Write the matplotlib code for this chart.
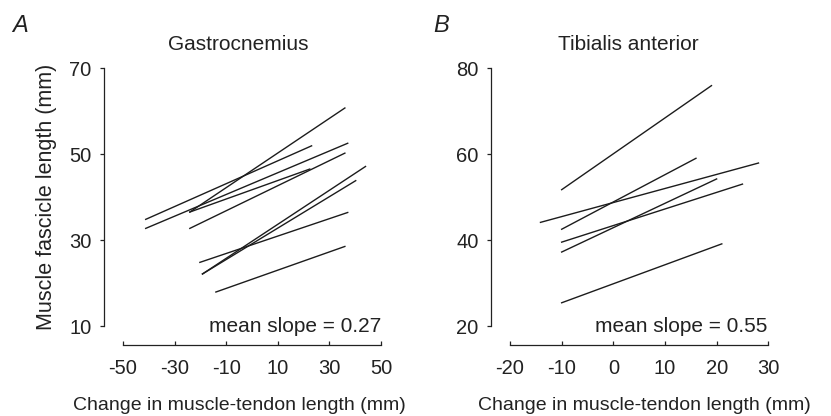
import matplotlib
matplotlib.use('Agg')
import matplotlib.pyplot as plt

plt.rcParams['font.family'] = ['Liberation Sans', 'DejaVu Sans']
plt.rcParams['axes.unicode_minus'] = False

# Gastrocnemius: start/end of each fitted line
gas_x0 = [-41.2, -41.2, -24.1, -24.1, -24.1, -20.2, -19.2, -19.2, -14.0]
gas_x1 = [23.1, 37.1, 36.0, 22.4, 36.0, 37.1, 44.0, 40.2, 36.0]
gas_y0 = [34.8, 32.7, 36.5, 36.5, 32.7, 24.8, 22.1, 22.1, 17.9]
gas_y1 = [51.9, 52.5, 60.7, 46.5, 50.2, 36.4, 47.1, 43.8, 28.5]

# Tibialis anterior
tib_x0 = [-10, -10, -14.1, -10, -10, -10]
tib_x1 = [19.0, 16.0, 28.1, 25.0, 20.0, 21.0]
tib_y0 = [51.7, 42.5, 44.1, 39.5, 37.2, 25.4]
tib_y1 = [75.9, 59.0, 57.9, 53.0, 54.2, 39.1]

gas_xticks = [-50, -30, -10, 10, 30, 50]
gas_yticks = [10, 30, 50, 70]
tib_xticks = [-20, -10, 0, 10, 20, 30]
tib_yticks = [20, 40, 60, 80]

W, H = 831, 416
fig = plt.figure(figsize=(W / 100, H / 100), dpi=100)

def px(x, y):
    return x / W, 1 - y / H

line_col = '#1c1c1c'
txt_col = '#222222'


def setup(ax, xticks, yticks):
    ax.set_xlim(xticks[0], xticks[-1])
    ax.set_ylim(yticks[0], yticks[-1])
    ax.set_xticks(xticks)
    ax.set_yticks(yticks)
    for s in ['top', 'right']:
        ax.spines[s].set_visible(False)
    for s in ['left', 'bottom']:
        ax.spines[s].set_position(('outward', 13.5))
        ax.spines[s].set_linewidth(0.9)
        ax.spines[s].set_color(txt_col)
    ax.tick_params(axis='x', direction='in', length=3.2, width=0.9, pad=10,
                   labelsize=14.5, colors=txt_col)
    ax.tick_params(axis='y', direction='out', length=3.2, width=0.9, pad=6,
                   labelsize=14.5, colors=txt_col)
    ax.patch.set_visible(False)


# panel A
axA = fig.add_axes([123 / W, 1 - 326 / H, 258 / W, 258 / H])
setup(axA, gas_xticks, gas_yticks)
for i in range(len(gas_x0)):
    axA.plot([gas_x0[i], gas_x1[i]], [gas_y0[i], gas_y1[i]], color=line_col, lw=1.0)
axA.text(50, 10, 'mean slope = 0.27', ha='right', va='center', fontsize=15, color=txt_col)

# panel B
axB = fig.add_axes([510 / W, 1 - 326 / H, 258.3 / W, 258 / H])
setup(axB, tib_xticks, tib_yticks)
for i in range(len(tib_x0)):
    axB.plot([tib_x0[i], tib_x1[i]], [tib_y0[i], tib_y1[i]], color=line_col, lw=1.0)
axB.text(29.8, 20, 'mean slope = 0.55', ha='right', va='center', fontsize=15, color=txt_col)

# titles, labels, panel letters
fig.text(*px(238, 45), 'Gastrocnemius', ha='center', va='center', fontsize=15, color=txt_col)
fig.text(*px(628, 45), 'Tibialis anterior', ha='center', va='center', fontsize=15, color=txt_col)
fig.text(*px(239, 405), 'Change in muscle-tendon length (mm)', ha='center', va='center',
         fontsize=14, color=txt_col)
fig.text(*px(644, 405), 'Change in muscle-tendon length (mm)', ha='center', va='center',
         fontsize=14, color=txt_col)
fig.text(*px(47, 197), 'Muscle fascicle length (mm)', ha='center', va='center',
         rotation=90, fontsize=15.5, color=txt_col)
fig.text(*px(20, 25), 'A', ha='center', va='center', fontsize=17, style='italic', color=txt_col)
fig.text(*px(441, 25), 'B', ha='center', va='center', fontsize=17, style='italic', color=txt_col)

fig.savefig('out.png', dpi=100, facecolor='white')
